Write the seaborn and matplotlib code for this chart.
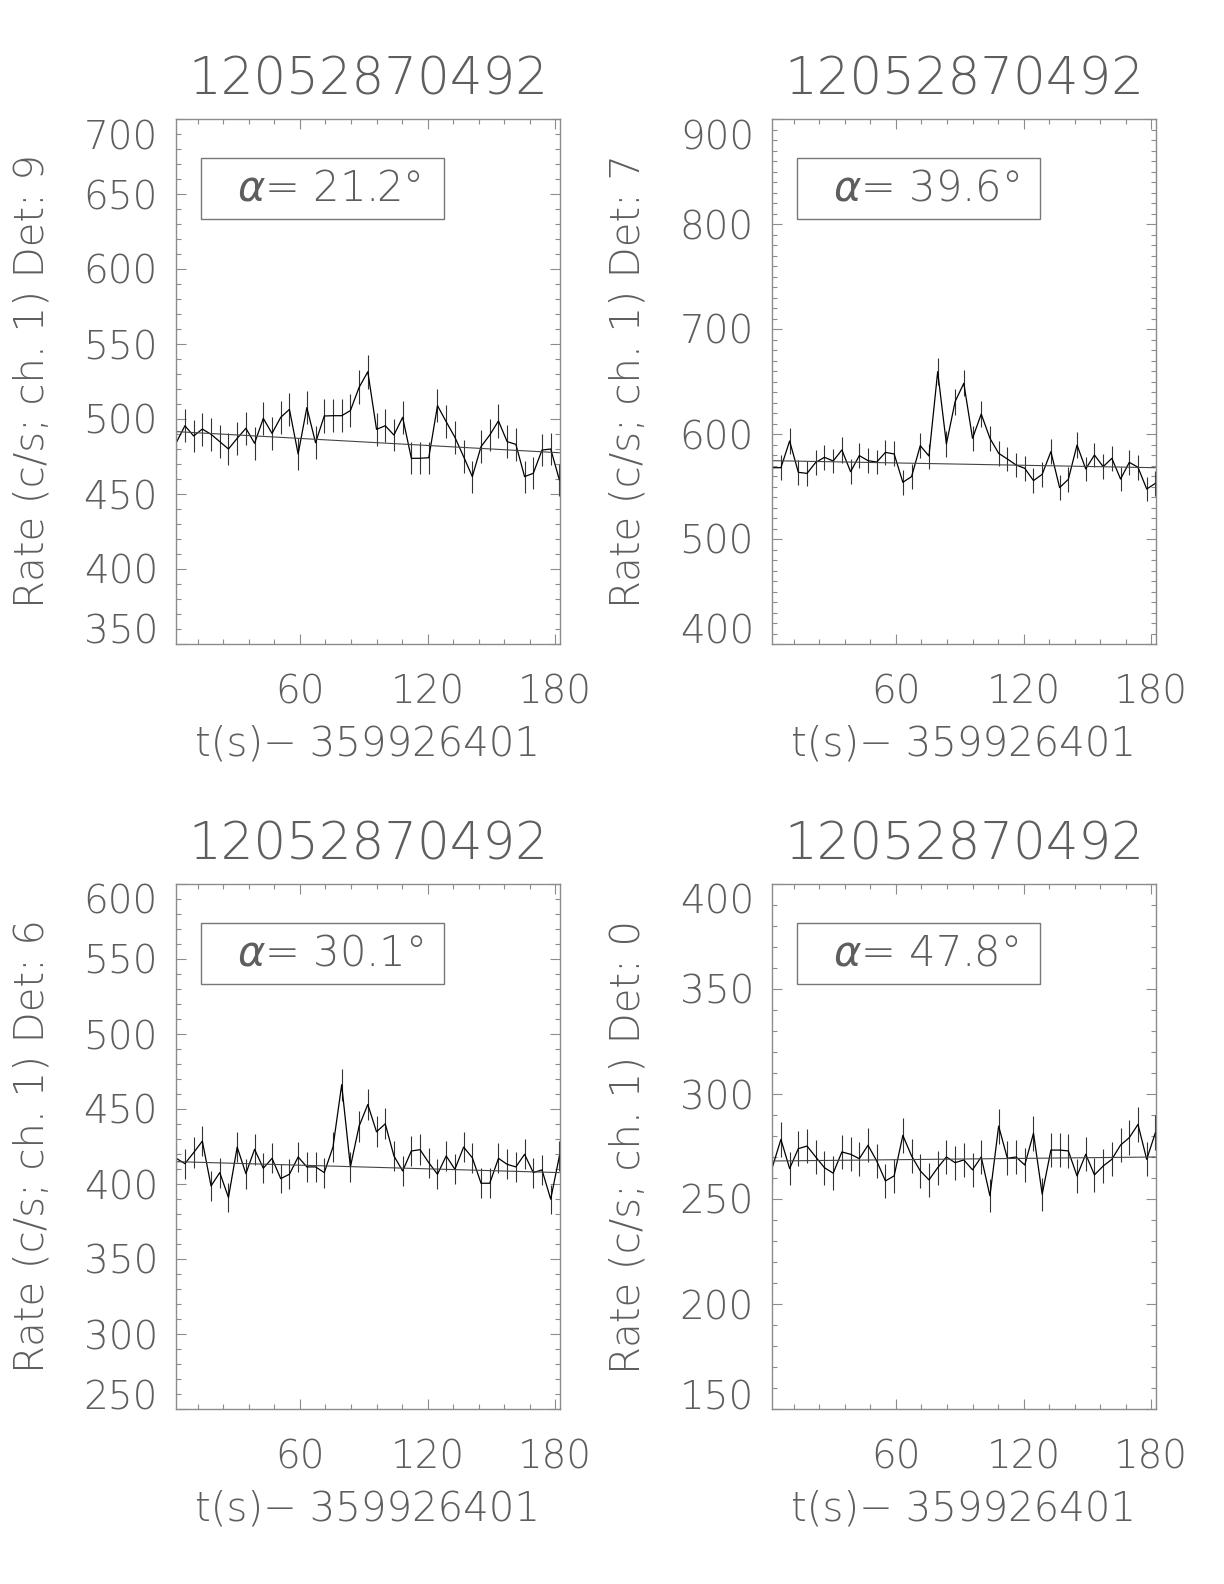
import numpy as np
import pandas as pd
import seaborn as sns
import matplotlib
matplotlib.use('Agg')
from matplotlib import pyplot as plt
from matplotlib.patches import Rectangle
from matplotlib.ticker import MultipleLocator


# time bins (s after 359926401)
T_START = 1.8
BIN = 4.096
N_BINS = 45

title = '12052870492'
xlabel = 't(s)\u2212 359926401'
x_major = [60, 120, 180]

detectors = [9, 7, 6, 0]
alpha_deg = [21.2, 39.6, 30.1, 47.8]
ylims = [(350, 700), (400, 900), (250, 600), (150, 400)]
y_steps = [50, 100, 50, 50]

rate_det9 = [484.2, 495.5, 488.7, 493.3, 489.8, 484.9, 480.0, 487.1, 493.8, 483.8,
             500.4, 490.4, 501.1, 506.4, 476.7, 507.6, 484.2, 502.0, 502.2, 502.2,
             505.6, 521.1, 531.5, 493.1, 495.5, 489.3, 501.1, 473.8, 473.8, 474.2,
             508.9, 498.2, 487.8, 474.9, 461.6, 481.6, 489.3, 498.7, 484.9, 483.1,
             461.6, 463.8, 479.3, 480.0, 459.3]
rate_det7 = [567.9, 567.9, 593.3, 563.5, 562.5, 573.0, 577.8, 574.3, 584.8, 564.1,
             579.4, 574.6, 573.3, 582.5, 581.0, 554.0, 559.4, 588.9, 579.0, 659.4,
             590.5, 630.8, 648.3, 595.9, 619.0, 595.9, 581.6, 576.2, 570.5, 567.3,
             555.6, 561.6, 583.2, 548.9, 556.8, 589.5, 566.7, 580.0, 568.9, 576.8,
             557.1, 573.0, 568.3, 547.6, 553.0]
rate_det6 = [417.1, 413.6, 420.9, 428.6, 398.7, 407.6, 391.0, 424.6, 406.9, 423.1,
             410.5, 417.1, 403.6, 406.5, 418.0, 411.4, 411.4, 407.6, 424.6, 466.2,
             411.4, 438.6, 453.0, 434.8, 440.1, 418.7, 408.7, 422.0, 422.9, 414.2,
             406.5, 418.7, 409.8, 424.6, 417.5, 400.5, 400.5, 417.1, 413.1, 411.4,
             419.8, 407.6, 409.4, 389.9, 418.7]
rate_det0 = [264.9, 278.4, 264.5, 274.0, 275.2, 270.0, 264.9, 262.3, 272.4, 271.3,
             269.2, 275.6, 268.1, 258.6, 261.0, 280.3, 270.5, 263.4, 259.1, 264.9,
             270.0, 267.3, 268.6, 263.9, 270.0, 251.5, 284.7, 269.4, 270.0, 266.2,
             281.3, 252.3, 273.3, 273.3, 272.9, 261.0, 271.3, 261.5, 265.7, 268.9,
             275.7, 279.2, 285.5, 268.9, 281.6]
rates = [rate_det9, rate_det7, rate_det6, rate_det0]

# background fit, value at first and last bin
bkg_ends = [(491.6, 477.5), (574.6, 567.9), (414.9, 407.6), (268.1, 270.0)]

sns.set_style('ticks')
plt.rcParams['font.family'] = ['DejaVu Sans']
plt.rcParams['font.weight'] = 200
plt.rcParams['mathtext.fontset'] = 'dejavusans'

TXT = '#5e5e5e'
FRAME = '#8c8c8c'

fig = plt.figure(figsize=(12.24, 15.84), dpi=100)

W, H = 1224.0, 1584.0
lefts = [176, 772, 176, 772]
tops = [119, 119, 884, 884]
aw, ah = 384, 525

t = T_START + BIN * np.arange(N_BINS)

for i in range(4):
    ax = fig.add_axes([lefts[i] / W, 1 - (tops[i] + ah) / H, aw / W, ah / H])
    r = np.array(rates[i])
    err = np.sqrt(r / BIN)
    df = pd.DataFrame({'t': t, 'rate': r})

    ax.vlines(t, r - err, r + err, color='#333333', lw=0.8)
    sns.lineplot(data=df, x='t', y='rate', color='black', lw=0.9,
                 estimator=None, ax=ax)
    ax.plot([t[0], t[-1]], list(bkg_ends[i]), color='#444444', lw=0.8)

    ax.set_xlim(1.7, 182.3)
    ax.set_ylim(*ylims[i])
    ax.set_xlabel('')
    ax.set_ylabel('')

    ax.set_xticks(x_major)
    ax.set_xticklabels([str(v) for v in x_major])
    ax.xaxis.set_minor_locator(MultipleLocator(12))
    y0, y1 = ylims[i]
    yt = list(range(y0, y1 + 1, y_steps[i]))
    ax.set_yticks(yt)
    ax.set_yticklabels([str(v) for v in yt])
    ax.yaxis.set_minor_locator(MultipleLocator(10))

    ax.tick_params(which='both', direction='in', top=True, right=True,
                   color=FRAME, width=0.8, labelcolor=TXT, labelsize=28)
    ax.tick_params(which='major', length=7.5)
    ax.tick_params(which='minor', length=3.6)
    ax.tick_params(axis='x', pad=21)
    ax.tick_params(axis='y', pad=13)
    # end labels sit inside the axis range, as in the original
    ylabs = ax.get_yticklabels()
    ylabs[0].set_verticalalignment('baseline')
    ylabs[-1].set_verticalalignment('top')

    for s in ax.spines.values():
        s.set_color(FRAME)
        s.set_linewidth(1.0)

    ax.text(0.5, 1 + 39 / ah, title, transform=ax.transAxes, ha='center',
            va='center', fontsize=37, color=TXT)
    ax.text(0.5, -100 / ah, xlabel, transform=ax.transAxes, ha='center',
            va='center', fontsize=29, color=TXT)
    ax.text(-144 / aw, 0.5, 'Rate (c/s; ch. 1) Det: %d' % detectors[i],
            transform=ax.transAxes, ha='center', va='center', rotation=90,
            fontsize=29, color=TXT)

    ax.add_patch(Rectangle((0.065, 0.81), 0.632, 0.116, transform=ax.transAxes,
                           fill=False, edgecolor='#777777', lw=1.0))
    ax.text(0.16, 0.868, '$\\alpha$= %.1f\u00b0' % alpha_deg[i],
            transform=ax.transAxes, ha='left', va='center', fontsize=30,
            color=TXT)

fig.savefig('out.png', dpi=100, facecolor='white')
